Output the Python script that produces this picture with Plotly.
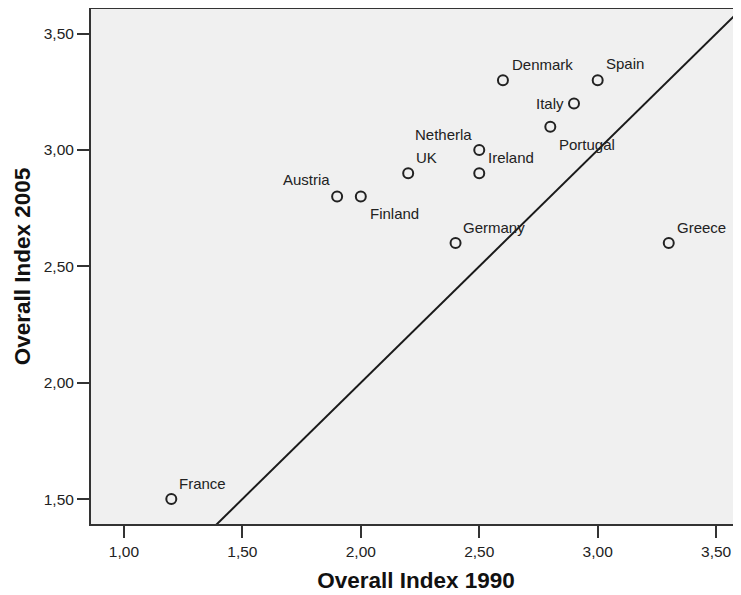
import plotly.graph_objects as go

countries = ["France", "Austria", "Finland", "UK", "Germany", "Netherla", "Ireland",
             "Denmark", "Portugal", "Italy", "Spain", "Greece"]
index_1990 = [1.2, 1.9, 2.0, 2.2, 2.4, 2.5, 2.5, 2.6, 2.8, 2.9, 3.0, 3.3]
index_2005 = [1.5, 2.8, 2.8, 2.9, 2.6, 3.0, 2.9, 3.3, 3.1, 3.2, 3.3, 2.6]
tick_vals = [1.0, 1.5, 2.0, 2.5, 3.0, 3.5]
identity_line = [1.0, 4.0]  # reference line y = x

# label placement (style): xanchor, xshift, yshift
label_pos = {
    "France": ("left", 7, 16), "Austria": ("right", -6, 17), "Finland": ("left", 8, -17),
    "UK": ("left", 7, 16), "Germany": ("left", 6, 16), "Netherla": ("right", -6, 16),
    "Ireland": ("left", 8, 16), "Denmark": ("left", 8, 16), "Portugal": ("left", 8, -18),
    "Italy": ("right", -9, 0), "Spain": ("left", 7, 17), "Greece": ("left", 7, 16),
}

FONT = "Liberation Sans, Arial, sans-serif"
AX = "#333333"

fig = go.Figure()
fig.add_trace(go.Scatter(x=identity_line, y=identity_line, mode="lines",
                         line=dict(color="#1a1a1a", width=2), hoverinfo="skip",
                         showlegend=False))
fig.add_trace(go.Scatter(x=index_1990, y=index_2005, mode="markers",
                         marker=dict(symbol="circle-open", size=10, color="#222222",
                                     line=dict(color="#222222", width=2)),
                         showlegend=False))

for c, xv, yv in zip(countries, index_1990, index_2005):
    xa, xs, ys = label_pos[c]
    fig.add_annotation(x=xv, y=yv, text=c, showarrow=False, xanchor=xa, yanchor="middle",
                       xshift=xs, yshift=ys, borderpad=0,
                       font=dict(family=FONT, size=15, color="#222222"))

fig.update_layout(
    width=733, height=587,
    margin=dict(l=83, r=0, t=1, b=71),
    paper_bgcolor="white", plot_bgcolor="#F0F0F0",
    separators=",.",
    font=dict(family=FONT, size=15, color="#222222"),
)
fig.update_xaxes(range=[0.861, 3.605], tickvals=tick_vals, tickformat=".2f",
                 showgrid=False, zeroline=False, showline=True, linecolor=AX, linewidth=2,
                 mirror=True, ticks="outside", ticklen=12, tickwidth=2, tickcolor=AX,
                 tickfont=dict(family=FONT, size=15.5, color="#222222"),
                 title=dict(text="<b>Overall Index 1990</b>",
                            font=dict(family=FONT, size=22.5, color="#111111"), standoff=14))
fig.update_yaxes(range=[1.393, 3.606], tickvals=tick_vals, tickformat=".2f",
                 showgrid=False, zeroline=False, showline=True, linecolor=AX, linewidth=2,
                 mirror=False, ticks="outside", ticklen=12, tickwidth=2, tickcolor=AX,
                 tickfont=dict(family=FONT, size=15.5, color="#222222"),
                 title=dict(text="<b>Overall Index 2005</b>",
                            font=dict(family=FONT, size=22.5, color="#111111"), standoff=7))

fig.write_html("out.html")
